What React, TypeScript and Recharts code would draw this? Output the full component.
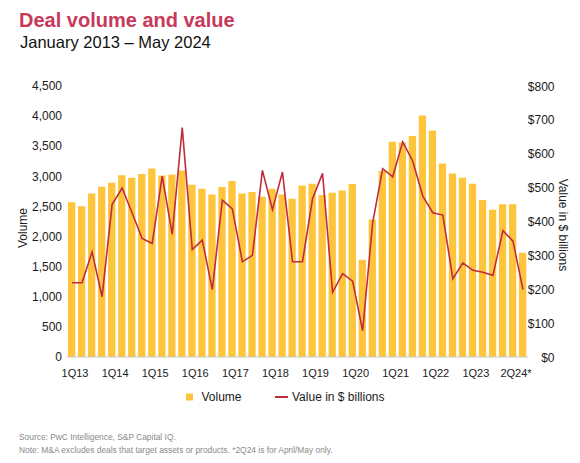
import React from 'react';
import { ComposedChart, Bar, Line, XAxis, YAxis } from 'recharts';

const quarters = [
  '1Q13', '2Q13', '3Q13', '4Q13',
  '1Q14', '2Q14', '3Q14', '4Q14',
  '1Q15', '2Q15', '3Q15', '4Q15',
  '1Q16', '2Q16', '3Q16', '4Q16',
  '1Q17', '2Q17', '3Q17', '4Q17',
  '1Q18', '2Q18', '3Q18', '4Q18',
  '1Q19', '2Q19', '3Q19', '4Q19',
  '1Q20', '2Q20', '3Q20', '4Q20',
  '1Q21', '2Q21', '3Q21', '4Q21',
  '1Q22', '2Q22', '3Q22', '4Q22',
  '1Q23', '2Q23', '3Q23', '4Q23',
  '1Q24', '2Q24*',
];

const volume = [
  2570, 2505, 2716, 2827,
  2893, 3020, 2976, 3037,
  3131, 3015, 3031, 3098,
  2860, 2794, 2699, 2821,
  2921, 2716, 2738, 2660,
  2794, 2699, 2627, 2849,
  2876, 2688, 2727, 2766,
  2871, 1614, 2284, 3090,
  3574, 3560, 3668, 4011,
  3762, 3214, 3048, 2976,
  2876, 2605, 2444, 2538,
  2538, 1730,
];

// $ billions
const value = [
  219, 219, 310, 178,
  450, 499, 425, 350,
  335, 534, 362, 677,
  317, 345, 199, 463,
  437, 281, 300, 551,
  435, 546, 281, 281,
  467, 542, 191, 246,
  224, 78, 396, 556,
  532, 635, 578, 475,
  426, 419, 231, 278,
  256, 250, 241, 373,
  342, 199,
];

const shownQuarters = ['1Q13', '1Q14', '1Q15', '1Q16', '1Q17', '1Q18', '1Q19', '1Q20', '1Q21', '1Q22', '1Q23', '2Q24*'];
const volumeTicks = [0, 500, 1000, 1500, 2000, 2500, 3000, 3500, 4000, 4500];
const valueTicks = [0, 100, 200, 300, 400, 500, 600, 700, 800];

const data = quarters.map((q, i) => ({ quarter: q, volume: volume[i], value: value[i] }));

const FONT = '"Liberation Sans", Arial, Helvetica, sans-serif';
const YELLOW = '#FEC53C';
const RED = '#C02B3E';

const XTick = (props: any) => {
  const { x, y, payload } = props;
  if (!shownQuarters.includes(payload.value)) return <g />;
  const last = payload.value === '2Q24*';
  return (
    <text x={x + (last ? -7 : 3)} y={y + 20} textAnchor="middle" fontSize={11} fill="#1a1a1a" fontFamily={FONT}>
      {payload.value}
    </text>
  );
};

const RightTick = (props: any) => {
  const { x, y, payload } = props;
  return (
    <text x={x + 26.5} y={y + 4.5} textAnchor="end" fontSize={12} fill="#1a1a1a" fontFamily={FONT}>
      {`$${payload.value}`}
    </text>
  );
};

const App: React.FC = () => {
  return (
    <div style={{ position: 'absolute', left: 0, top: 0, width: 580, height: 463, background: '#fff', fontFamily: FONT }}>
      <ComposedChart
        width={580}
        height={463}
        data={data}
        margin={{ top: 86, right: 0, bottom: 76, left: 0 }}
        barCategoryGap={0}
      >
        <XAxis
          dataKey="quarter"
          interval={0}
          height={30}
          tickLine={false}
          tickSize={0}
          tickMargin={0}
          axisLine={{ stroke: '#c8c8c8', strokeWidth: 1.2 }}
          tick={<XTick />}
        />
        <YAxis
          yAxisId="vol"
          orientation="left"
          width={67}
          domain={[0, 4500]}
          ticks={volumeTicks}
          axisLine={false}
          tickLine={false}
          tickSize={0}
          tickMargin={5}
          tickFormatter={(v: number) => v.toLocaleString('en-US')}
          tick={{ fill: '#1a1a1a', fontSize: 12, fontFamily: FONT }}
        />
        <YAxis
          yAxisId="val"
          orientation="right"
          width={52}
          domain={[0, 800]}
          ticks={valueTicks}
          axisLine={false}
          tickLine={false}
          tickSize={0}
          tickMargin={0}
          tick={<RightTick />}
        />
        <Bar yAxisId="vol" dataKey="volume" fill={YELLOW} barSize={7.3} isAnimationActive={false} />
        <Line
          yAxisId="val"
          type="linear"
          dataKey="value"
          stroke={RED}
          strokeWidth={1.6}
          dot={false}
          activeDot={false}
          isAnimationActive={false}
        />
      </ComposedChart>

      <svg width={580} height={463} style={{ position: 'absolute', left: 0, top: 0, pointerEvents: 'none' }} fontFamily={FONT}>
        <text x={19} y={27} fontSize={20} fontWeight="bold" fill="#C8385A">Deal volume and value</text>
        <text x={20} y={47.5} fontSize={16.5} fill="#111">January 2013 – May 2024</text>

        <text x={23} y={228} fontSize={12} fill="#1a1a1a" textAnchor="middle" dominantBaseline="central" transform="rotate(-90 23 228)">
          Volume
        </text>
        <text x={563} y={225} fontSize={12} fill="#1a1a1a" textAnchor="middle" dominantBaseline="central" transform="rotate(90 563 225)">
          Value in $ billions
        </text>

        <rect x={186} y={393.5} width={7} height={7} fill={YELLOW} />
        <text x={201.5} y={401.3} fontSize={12} fill="#1a1a1a">Volume</text>
        <line x1={275} x2={288} y1={397} y2={397} stroke={RED} strokeWidth={2} />
        <text x={292} y={401.3} fontSize={12} fill="#1a1a1a">Value in $ billions</text>

        <text x={19} y={440} fontSize={8.4} fill="#8a8a8a">Source: PwC Intelligence, S&amp;P Capital IQ.</text>
        <text x={19} y={453} fontSize={8.4} fill="#8a8a8a">
          Note: M&amp;A excludes deals that target assets or products. *2Q24 is for April/May only.
        </text>
      </svg>
    </div>
  );
};

export default App;
